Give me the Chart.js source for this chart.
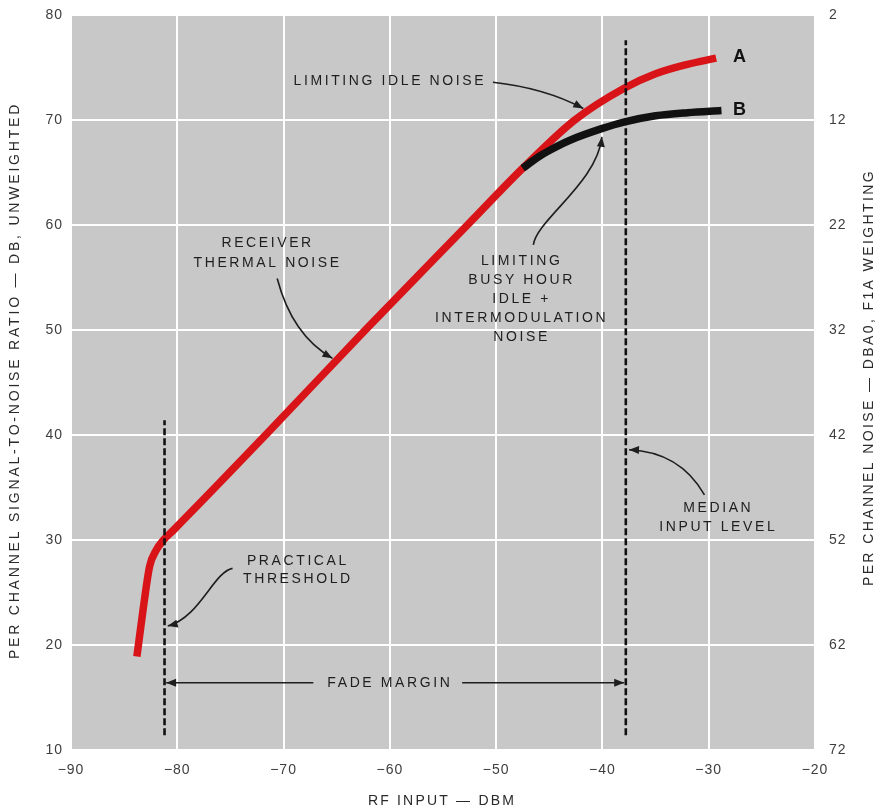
<!DOCTYPE html>
<html>
<head>
<meta charset="utf-8">
<script src="https://cdn.jsdelivr.net/npm/chart.js@4/dist/chart.umd.min.js"></script>
<style>
  html, body { margin: 0; padding: 0; background: #fff; }
  #wrap { width: 881px; height: 810px; position: relative; }
</style>
</head>
<body>
<div id="wrap"><canvas id="chart"></canvas></div>
<script>
// ---- data ----
const xTicks     = [-90, -80, -70, -60, -50, -40, -30, -20];
const snrTicks   = [10, 20, 30, 40, 50, 60, 70, 80];
const noiseTicks = [2, 12, 22, 32, 42, 52, 62, 72];

// curve A: receiver thermal noise, limiting idle noise
const curveAx = [-83.8, -83.2, -82.6, -82.0, -81.3, -80.3, -71.5, -62.5, -52.6, -47.5, -42.6, -38.0, -35.0, -32.0, -29.3];
const curveAy = [18.9, 23.5, 27.5, 29.0, 30.0, 31.0, 40.2, 49.8, 60.1, 65.4, 70.0, 73.0, 74.4, 75.3, 75.9];

// curve B: busy hour idle + intermodulation noise
const curveBx = [-47.5, -46.0, -45.0, -43.0, -40.0, -38.0, -35.0, -32.0, -28.8];
const curveBy = [65.4, 66.5, 67.1, 68.1, 69.2, 69.8, 70.4, 70.7, 70.9];

// dashed markers
const thresholdX = -81.2;
const thresholdY = [11.4, 41.4];
const medianX    = -37.8;
const medianY    = [11.4, 77.6];
const fadeY      = 16.4;

// ---- annotations (data coordinates) ----
const labels = [
  { lines: ['LIMITING IDLE NOISE'], x: -60.0, y: 73.7 },
  { lines: ['RECEIVER', 'THERMAL NOISE'], x: -71.5, y: 58.3 },
  { lines: ['LIMITING', 'BUSY HOUR', 'IDLE +', 'INTERMODULATION', 'NOISE'], x: -47.6, y: 56.6, gap: 19 },
  { lines: ['MEDIAN', 'INPUT LEVEL'], x: -29.1, y: 33.05, gap: 19 },
  { lines: ['PRACTICAL', 'THRESHOLD'], x: -68.65, y: 28.0, gap: 18 },
  { lines: ['FADE MARGIN'], x: -60.0, y: fadeY },
];
const arrows = [
  [[-50.3, 73.6], [-45.4, 73.05], null, [-41.8, 71.1]],
  [[-70.6, 54.9], [-69.2, 49.5], null, [-65.4, 47.3]],
  [[-46.5, 58.1], [-46.2, 60.5], [-40.5, 64.0], [-40.05, 68.4]],
  [[-30.4, 34.3], [-32.7, 38.4], null, [-37.5, 38.6]],
  [[-74.8, 27.3], [-76.6, 26.95], [-77.9, 22.6], [-80.9, 21.8]],
  [[-67.2, fadeY], null, null, [thresholdX + 0.15, fadeY]],
  [[-53.2, fadeY], null, null, [medianX - 0.15, fadeY]],
];

const FONT = '"Liberation Sans", Arial, sans-serif';
const INK = '#1e1e1e';

const pts = (xs, ys) => xs.map((x, i) => ({ x, y: ys[i] }));
const minus = v => String(v).replace('-', '\u2212');

const plotBg = {
  id: 'plotBg',
  beforeDraw(chart) {
    const { ctx, chartArea: a } = chart;
    ctx.save();
    ctx.fillStyle = '#c8c8c8';
    ctx.fillRect(a.left, a.top, a.width, a.height);
    ctx.restore();
    ctx.letterSpacing = '1px';
  },
};

function arrowHead(ctx, fx, fy, tx, ty) {
  const ang = Math.atan2(ty - fy, tx - fx);
  const L = 10, W = 4;
  ctx.beginPath();
  ctx.moveTo(tx, ty);
  ctx.lineTo(tx - L * Math.cos(ang) + W * Math.sin(ang), ty - L * Math.sin(ang) - W * Math.cos(ang));
  ctx.lineTo(tx - L * Math.cos(ang) - W * Math.sin(ang), ty - L * Math.sin(ang) + W * Math.cos(ang));
  ctx.closePath();
  ctx.fill();
}

const notes = {
  id: 'notes',
  afterDraw(chart) {
    const { ctx, scales } = chart;
    const X = v => scales.x.getPixelForValue(v);
    const Y = v => scales.y.getPixelForValue(v);
    ctx.save();
    ctx.fillStyle = INK;
    ctx.strokeStyle = INK;
    ctx.textAlign = 'center';
    ctx.textBaseline = 'middle';
    ctx.font = '14px ' + FONT;
    ctx.letterSpacing = '2.6px';
    labels.forEach(l => {
      l.lines.forEach((t, i) => ctx.fillText(t, X(l.x), Y(l.y) + i * (l.gap || 20)));
    });

    ctx.lineWidth = 1.6;
    arrows.forEach(([s, c1, c2, e]) => {
      const sx = X(s[0]), sy = Y(s[1]), ex = X(e[0]), ey = Y(e[1]);
      ctx.beginPath();
      ctx.moveTo(sx, sy);
      let fx = sx, fy = sy;
      if (c1 && c2) {
        ctx.bezierCurveTo(X(c1[0]), Y(c1[1]), X(c2[0]), Y(c2[1]), ex, ey);
        fx = X(c2[0]); fy = Y(c2[1]);
      } else if (c1) {
        ctx.quadraticCurveTo(X(c1[0]), Y(c1[1]), ex, ey);
        fx = X(c1[0]); fy = Y(c1[1]);
      } else {
        ctx.lineTo(ex, ey);
      }
      ctx.stroke();
      arrowHead(ctx, fx, fy, ex, ey);
    });

    // curve letters
    ctx.font = 'bold 18px ' + FONT;
    ctx.letterSpacing = '0px';
    ctx.fillStyle = '#111';
    ctx.fillText('A', X(-27.1), Y(76.0));
    ctx.fillText('B', X(-27.1), Y(70.95));

    // axis titles
    ctx.fillStyle = '#2a2a2a';
    ctx.font = '14px ' + FONT;
    const a = chart.chartArea;
    const midY = (a.top + a.bottom) / 2;
    ctx.save();
    ctx.letterSpacing = '2.8px';
    ctx.translate(15, midY - 2);
    ctx.rotate(-Math.PI / 2);
    ctx.fillText('PER CHANNEL SIGNAL-TO-NOISE RATIO \u2014 DB, UNWEIGHTED', 0, 0);
    ctx.restore();
    ctx.save();
    ctx.letterSpacing = '2.4px';
    ctx.translate(869, midY - 5);
    ctx.rotate(-Math.PI / 2);
    ctx.fillText('PER CHANNEL NOISE \u2014 DBA0, F1A WEIGHTING', 0, 0);
    ctx.restore();
    ctx.letterSpacing = '2.2px';
    ctx.fillText('RF INPUT \u2014 DBM', 442, 801);
    ctx.restore();
  },
};

const tickFont = { family: FONT, size: 14 };
const fixTicks = list => scale => { scale.ticks = list.map(v => ({ value: v })); };
const fitY = w => s => { s.width = w; s.paddingTop = 0; s.paddingBottom = 0; };

new Chart(document.getElementById('chart'), {
  type: 'line',
  data: {
    datasets: [
      { label: 'A', data: pts(curveAx, curveAy), borderColor: '#d81418', borderWidth: 7.5,
        pointRadius: 0, cubicInterpolationMode: 'monotone', borderCapStyle: 'butt', order: 2 },
      { label: 'B', data: pts(curveBx, curveBy), borderColor: '#111', borderWidth: 7.5,
        pointRadius: 0, cubicInterpolationMode: 'monotone', borderCapStyle: 'butt', order: 1 },
      { label: 'threshold', data: thresholdY.map(y => ({ x: thresholdX, y })), borderColor: '#111',
        borderWidth: 2.6, borderDash: [7, 3], pointRadius: 0, order: 0 },
      { label: 'median', data: medianY.map(y => ({ x: medianX, y })), borderColor: '#111',
        borderWidth: 2.6, borderDash: [7, 3], pointRadius: 0, order: 0 },
    ],
  },
  options: {
    responsive: true,
    maintainAspectRatio: false,
    animation: false,
    layout: { padding: { top: 15 } },
    plugins: { legend: { display: false }, tooltip: { enabled: false } },
    scales: {
      x: {
        type: 'linear', min: -90, max: -20,
        afterBuildTicks: fixTicks(xTicks),
        afterFit: s => { s.height = 60; },
        ticks: { font: tickFont, color: '#3e3e3e', padding: 12, callback: v => minus(v) },
        grid: { color: '#fff', lineWidth: 2, drawTicks: false },
        border: { display: false },
      },
      y: {
        position: 'left', min: 10, max: 80,
        afterBuildTicks: fixTicks(snrTicks),
        afterFit: fitY(71),
        ticks: { font: tickFont, color: '#3e3e3e', padding: 8 },
        grid: { color: '#fff', lineWidth: 2, drawTicks: false },
        border: { display: false },
      },
      y2: {
        position: 'right', min: 2, max: 72, reverse: true,
        afterBuildTicks: fixTicks(noiseTicks),
        afterFit: fitY(66),
        ticks: { font: tickFont, color: '#3e3e3e', padding: 14 },
        grid: { display: false, drawTicks: false },
        border: { display: false },
      },
    },
  },
  plugins: [plotBg, notes],
});
</script>
</body>
</html>
